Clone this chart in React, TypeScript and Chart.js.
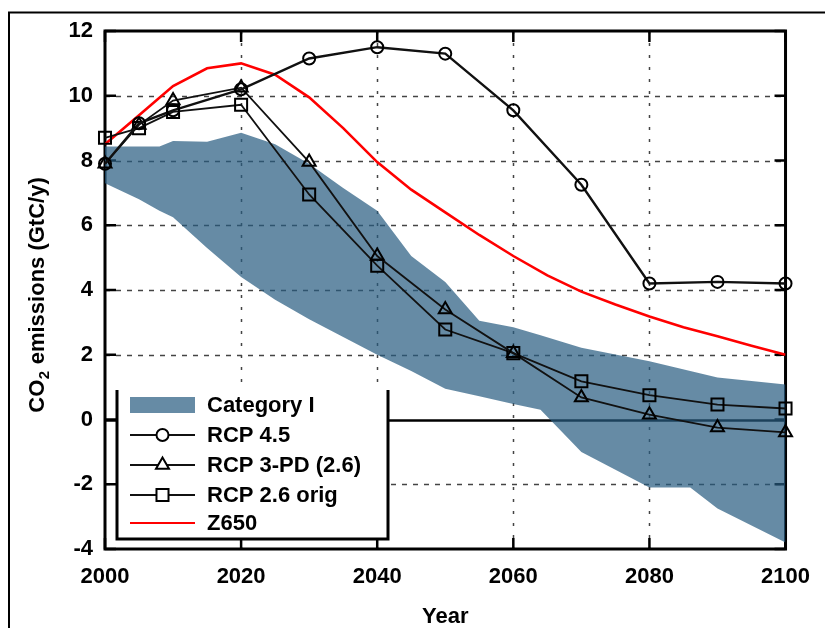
import { useEffect, useRef } from "react";
import { Chart, registerables } from "chart.js";

Chart.register(...registerables);

// ---- data ----
const rcpYears = [2000, 2005, 2010, 2020, 2030, 2040, 2050, 2060, 2070, 2080, 2090, 2100];
const rcp45 = [7.9, 9.15, 9.55, 10.2, 11.15, 11.5, 11.3, 9.55, 7.25, 4.2, 4.25, 4.2];
const rcp3pd = [7.9, 9.1, 9.85, 10.25, 7.95, 5.05, 3.4, 2.05, 0.68, 0.15, -0.25, -0.4];
const rcp26orig = [8.7, 9.0, 9.5, 9.72, 6.95, 4.75, 2.78, 2.05, 1.18, 0.75, 0.46, 0.34];

const z650Years = [2000, 2005, 2010, 2015, 2020, 2025, 2030, 2035, 2040, 2045, 2050, 2055, 2060, 2065, 2070, 2075, 2080, 2085, 2090, 2095, 2100];
const z650 = [8.5, 9.4, 10.3, 10.85, 11.0, 10.65, 9.95, 9.0, 7.95, 7.1, 6.4, 5.7, 5.05, 4.45, 3.95, 3.55, 3.18, 2.85, 2.57, 2.28, 2.0];

const bandYears = [2000, 2005, 2008, 2010, 2015, 2020, 2025, 2030, 2035, 2040, 2045, 2050, 2055, 2060, 2064, 2070, 2080, 2086, 2090, 2100];
const bandUpper = [8.43, 8.43, 8.43, 8.6, 8.58, 8.86, 8.5, 7.9, 7.15, 6.45, 5.05, 4.25, 3.05, 2.85, 2.6, 2.22, 1.8, 1.5, 1.3, 1.08];
const bandLower = [7.3, 6.8, 6.45, 6.25, 5.3, 4.4, 3.7, 3.1, 2.55, 2.0, 1.5, 0.95, 0.72, 0.48, 0.3, -1.0, -2.1, -2.1, -2.75, -3.8];

const legendLabels = ["Category I", "RCP 4.5", "RCP 3-PD (2.6)", "RCP 2.6 orig", "Z650"];
const yTitleParts = ["CO", "2", " emissions (GtC/y)"];
const xTitle = "Year";

const FONT = "'Liberation Sans', Arial, sans-serif";
const BAND_COLOR = "rgba(40, 92, 128, 0.71)";

const pts = (xs: number[], ys: number[]) => xs.map((x, i) => ({ x, y: ys[i] }));

function markerPath(ctx: CanvasRenderingContext2D, style: string, r: number, x: number, y: number) {
  ctx.beginPath();
  if (style === "circle") {
    ctx.arc(x, y, r, 0, Math.PI * 2);
  } else if (style === "triangle") {
    for (let k = 0; k < 3; k++) {
      const a = (k * 2 * Math.PI) / 3;
      const px = x + Math.sin(a) * r;
      const py = y - Math.cos(a) * r;
      if (k === 0) ctx.moveTo(px, py);
      else ctx.lineTo(px, py);
    }
    ctx.closePath();
  } else if (style === "rect") {
    const s = r * Math.SQRT1_2;
    ctx.rect(x - s, y - s, 2 * s, 2 * s);
  }
}

const framePlugin = {
  id: "frameGrid",
  beforeDatasetsDraw(chart: any) {
    const { ctx, chartArea, scales } = chart;
    const { left, top, right, bottom } = chartArea;
    const x = scales.x;
    const y = scales.y;
    ctx.save();
    ctx.strokeStyle = "#444";
    ctx.lineWidth = 1.5;
    x.ticks.forEach((t: any) => {
      if (t.value === x.min || t.value === x.max) return;
      const px = Math.round(x.getPixelForValue(t.value)) + 0.5;
      ctx.setLineDash([3, 9]);
      ctx.beginPath();
      ctx.moveTo(px, top);
      ctx.lineTo(px, bottom);
      ctx.stroke();
    });
    y.ticks.forEach((t: any) => {
      if (t.value === y.min || t.value === y.max) return;
      const py = Math.round(y.getPixelForValue(t.value)) + 0.5;
      ctx.beginPath();
      if (t.value === 0) {
        ctx.setLineDash([]);
        ctx.strokeStyle = "#000";
        ctx.lineWidth = 2.5;
      } else {
        ctx.setLineDash([5, 6]);
        ctx.strokeStyle = "#444";
        ctx.lineWidth = 1.5;
      }
      ctx.moveTo(left, py);
      ctx.lineTo(right, py);
      ctx.stroke();
    });
    ctx.setLineDash([]);
    ctx.strokeStyle = "#000";
    ctx.lineWidth = 3;
    ctx.strokeRect(left, top, right - left, bottom - top);
    const tl = 11;
    ctx.lineWidth = 2.5;
    x.ticks.forEach((t: any) => {
      const px = x.getPixelForValue(t.value);
      ctx.beginPath();
      ctx.moveTo(px, bottom);
      ctx.lineTo(px, bottom - tl);
      ctx.moveTo(px, top);
      ctx.lineTo(px, top + tl);
      ctx.stroke();
    });
    y.ticks.forEach((t: any) => {
      const py = y.getPixelForValue(t.value);
      ctx.beginPath();
      ctx.moveTo(left, py);
      ctx.lineTo(left + tl, py);
      ctx.moveTo(right, py);
      ctx.lineTo(right - tl, py);
      ctx.stroke();
    });
    ctx.restore();
  },
  afterDraw(chart: any) {
    const { ctx, width, height, chartArea } = chart;
    ctx.save();
    // outer figure frame
    ctx.strokeStyle = "#000";
    ctx.lineWidth = 2;
    ctx.beginPath();
    ctx.moveTo(9, height);
    ctx.lineTo(9, 12.5);
    ctx.lineTo(width, 12.5);
    ctx.stroke();
    // y-axis title with subscript
    const big = `bold 22px ${FONT}`;
    const small = `bold 15px ${FONT}`;
    ctx.font = big;
    const w0 = ctx.measureText(yTitleParts[0]).width;
    const w2 = ctx.measureText(yTitleParts[2]).width;
    ctx.font = small;
    const w1 = ctx.measureText(yTitleParts[1]).width + 1;
    const total = w0 + w1 + w2;
    const cy = (chartArea.top + chartArea.bottom) / 2 + 5;
    ctx.translate(44, cy);
    ctx.rotate(-Math.PI / 2);
    ctx.fillStyle = "#000";
    ctx.textBaseline = "alphabetic";
    ctx.textAlign = "left";
    let xx = -total / 2;
    ctx.font = big;
    ctx.fillText(yTitleParts[0], xx, 0);
    xx += w0;
    ctx.font = small;
    ctx.fillText(yTitleParts[1], xx + 0.5, 5);
    xx += w1;
    ctx.font = big;
    ctx.fillText(yTitleParts[2], xx, 0);
    ctx.restore();
  },
};

const legendPlugin = {
  id: "boxLegend",
  afterDatasetsDraw(chart: any) {
    const { ctx, chartArea } = chart;
    const ds = chart.data.datasets;
    const bx = chartArea.left + 12;
    const by = 390;
    const bw = 271;
    const bb = chartArea.bottom - 10;
    ctx.save();
    ctx.fillStyle = "#fff";
    ctx.fillRect(bx, by, bw, bb - by);
    ctx.strokeStyle = "#000";
    ctx.lineWidth = 3;
    ctx.beginPath();
    ctx.moveTo(bx, by);
    ctx.lineTo(bx, bb);
    ctx.lineTo(bx + bw, bb);
    ctx.lineTo(bx + bw, by);
    ctx.stroke();

    const sx0 = bx + 13;
    const sx1 = bx + 78;
    const tx = bx + 90;
    const rowY = [405, 435, 465, 495, 523];
    ctx.font = `bold 22px ${FONT}`;
    ctx.textBaseline = "middle";
    const items = [ds[1], ds[2], ds[3], ds[4], ds[5]];
    items.forEach((d: any, i: number) => {
      const cy = rowY[i];
      if (i === 0) {
        ctx.fillStyle = d.backgroundColor;
        ctx.fillRect(sx0, cy - 8, sx1 - sx0, 16);
      } else {
        ctx.strokeStyle = d.borderColor;
        ctx.lineWidth = 2.2;
        ctx.beginPath();
        ctx.moveTo(sx0, cy);
        ctx.lineTo(sx1, cy);
        ctx.stroke();
        if (d.pointRadius > 0) {
          markerPath(ctx, d.pointStyle, d.pointRadius, (sx0 + sx1) / 2, cy);
          ctx.fillStyle = "#fff";
          ctx.fill();
          ctx.lineWidth = d.pointBorderWidth;
          ctx.strokeStyle = "#000";
          ctx.stroke();
        }
      }
      ctx.fillStyle = "#000";
      ctx.fillText(legendLabels[i], tx, cy + 1);
    });
    ctx.restore();
  },
};

export default function App() {
  const ref = useRef<HTMLCanvasElement | null>(null);
  useEffect(() => {
    if (!ref.current) return;
    const lineCommon = {
      borderColor: "#111",
      borderWidth: 1.8,
      pointBorderColor: "#000",
      pointBackgroundColor: "rgba(0,0,0,0)",
      pointBorderWidth: 2,
      clip: false as any,
      order: 1,
    };
    const chart = new Chart(ref.current, {
      type: "line",
      data: {
        datasets: [
          {
            label: "Category I lower",
            data: pts(bandYears, bandLower),
            borderWidth: 0,
            pointRadius: 0,
            fill: false,
            order: 5,
          },
          {
            label: legendLabels[0],
            data: pts(bandYears, bandUpper),
            borderWidth: 0,
            pointRadius: 0,
            fill: "-1",
            backgroundColor: BAND_COLOR,
            order: 5,
          },
          { ...lineCommon, label: legendLabels[1], data: pts(rcpYears, rcp45), pointStyle: "circle", pointRadius: 6, borderWidth: 2.4 },
          { ...lineCommon, label: legendLabels[2], data: pts(rcpYears, rcp3pd), pointStyle: "triangle", pointRadius: 7.5 },
          { ...lineCommon, label: legendLabels[3], data: pts(rcpYears, rcp26orig), pointStyle: "rect", pointRadius: 8.5 },
          {
            label: legendLabels[4],
            data: pts(z650Years, z650),
            borderColor: "#ff0000",
            borderWidth: 2.6,
            pointRadius: 0,
            fill: false,
            order: 2,
          },
        ] as any,
      },
      options: {
        animation: false,
        responsive: false,
        layout: { padding: { top: 31, right: 28, left: 0, bottom: 0 } },
        plugins: { legend: { display: false }, tooltip: { enabled: false } },
        elements: { line: { tension: 0 } },
        scales: {
          x: {
            type: "linear",
            min: 2000,
            max: 2100,
            grid: { display: false, drawTicks: false },
            border: { display: false },
            ticks: {
              stepSize: 20,
              color: "#000",
              padding: 15,
              font: { family: FONT, size: 22, weight: "bold" },
              callback: (v: any) => String(v),
              maxRotation: 0,
            },
            title: {
              display: true,
              text: xTitle,
              color: "#000",
              font: { family: FONT, size: 22, weight: "bold", lineHeight: 1 },
              padding: { top: 0, bottom: 0 },
            },
            afterFit: (s: any) => {
              s.height = 79;
            },
          },
          y: {
            type: "linear",
            min: -4,
            max: 12,
            grid: { display: false, drawTicks: false },
            border: { display: false },
            ticks: {
              stepSize: 2,
              color: "#000",
              padding: 12,
              font: { family: FONT, size: 22, weight: "bold" },
            },
            afterFit: (s: any) => {
              s.width = 105;
            },
          },
        },
      } as any,
      plugins: [framePlugin, legendPlugin],
    });
    return () => chart.destroy();
  }, []);
  return (
    <div style={{ position: "absolute", left: 0, top: 0, width: 825, height: 628, background: "#fff" }}>
      <canvas ref={ref} width={825} height={628} style={{ display: "block" }} />
    </div>
  );
}
